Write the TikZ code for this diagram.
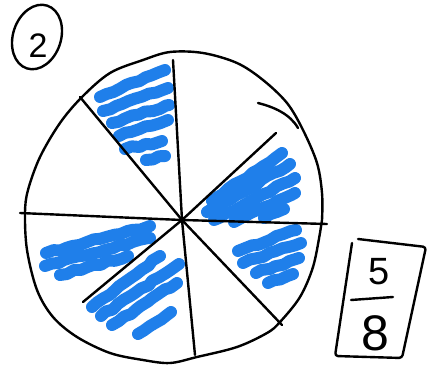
\documentclass[tikz,border=0pt]{standalone}
\usepackage{fontspec}
\setmainfont{Liberation Sans}
\usetikzlibrary{decorations.pathmorphing}
\definecolor{scribblue}{HTML}{1F7FEA}
\tikzset{
  ink/.style={draw=black, line width=2.4pt, line cap=round, line join=round},
  scrib/.style={draw=scribblue, line width=12pt, line cap=round, line join=round,
    decorate, decoration={random steps, segment length=7pt, amplitude=1.2pt}},
  digit/.style={inner sep=0pt, text=black}
}
\begin{document}
\begin{tikzpicture}[x=1pt,y=-1pt]
\pgfmathsetseed{7}
\useasboundingbox[fill=white] (0,0) rectangle (434,372);

% scribbles (blue shading), top sector
\draw[scrib] (100,97) -- (165,70);
\draw[scrib] (103,111) -- (168,88);
\draw[scrib] (112,123) -- (169,105);
\draw[scrib] (119,136) -- (168,120);
\draw[scrib] (125,149) -- (162,141);
\draw[scrib] (146,160) -- (165,156);
% upper-right sector
\draw[scrib] (212,201) -- (282,153);
\draw[scrib] (207,212) -- (290,164);
\draw[scrib] (214,220) -- (295,178);
\draw[scrib] (234,222) -- (295,193);
\draw[scrib] (264,218) -- (284,209);
% lower-right sector
\draw[scrib] (238,251) -- (296,230);
\draw[scrib] (243,263) -- (301,243);
\draw[scrib] (256,273) -- (299,258);
\draw[scrib] (268,283) -- (293,274);
% lower-left sector
\draw[scrib] (46,253) -- (150,226);
\draw[scrib] (45,266) -- (150,238);
\draw[scrib] (60,275) -- (128,256);
% bottom sector
\draw[scrib] (92,307) -- (160,256);
\draw[scrib] (101,316) -- (179,264);
\draw[scrib] (112,325) -- (177,283);
\draw[scrib] (138,334) -- (171,312);

% circle
\draw[ink] plot[smooth cycle, tension=0.55] coordinates {(170,52) (203,53) (237,63) (263,80) (287,103) (303,130) (317,163) (322,193) (322,220) (320,233) (313,267) (300,297) (280,322) (267,333) (237,347) (197,357) (170,363) (143,360) (110,353) (77,337) (53,317) (37,290) (27,250) (25,213) (28,190) (40,157) (60,123) (82,97) (110,73) (143,60)};
\coordinate (h1) at (258,103);
\coordinate (h2) at (298,128);
\draw[ink] (h1) .. controls (274,107) and (290,114) .. (h2);

% radii
\coordinate (c) at (182,220);
\coordinate (w) at (20,213);
\coordinate (e) at (327,224);
\coordinate (n) at (173,60);
\coordinate (s) at (195,355);
\coordinate (nw) at (80,97);
\coordinate (ne) at (276,133);
\coordinate (sw) at (83,302);
\coordinate (se) at (282,325);
\draw[ink] (w) -- (c) -- (e);
\draw[ink] (n) -- (c) -- (s);
\draw[ink] (nw) -- (c) -- (se);
\draw[ink] (ne) -- (c) -- (sw);

% circled 2
\draw[ink] (37,37) ellipse[x radius=24, y radius=33, rotate=-18];
\node[digit, font=\fontsize{34}{34}\selectfont] (two) at (38,46) {2};

% fraction box
\coordinate (b1) at (358,239);
\coordinate (b2) at (426,247);
\coordinate (b3) at (402,358);
\coordinate (b4) at (335,356);
\coordinate (b5) at (352,243);
\draw[ink, rounded corners=3pt] (b1) -- (b2) -- (b3) -- (b4) -- (b5);
\node[digit, font=\fontsize{38}{38}\selectfont] (five) at (379,272) {5};
\coordinate (f1) at (351,300);
\coordinate (f2) at (393,297);
\draw[ink] (f1) -- (f2);
\node[digit, font=\fontsize{50}{50}\selectfont] (eight) at (375,333) {8};
\end{tikzpicture}
\end{document}
